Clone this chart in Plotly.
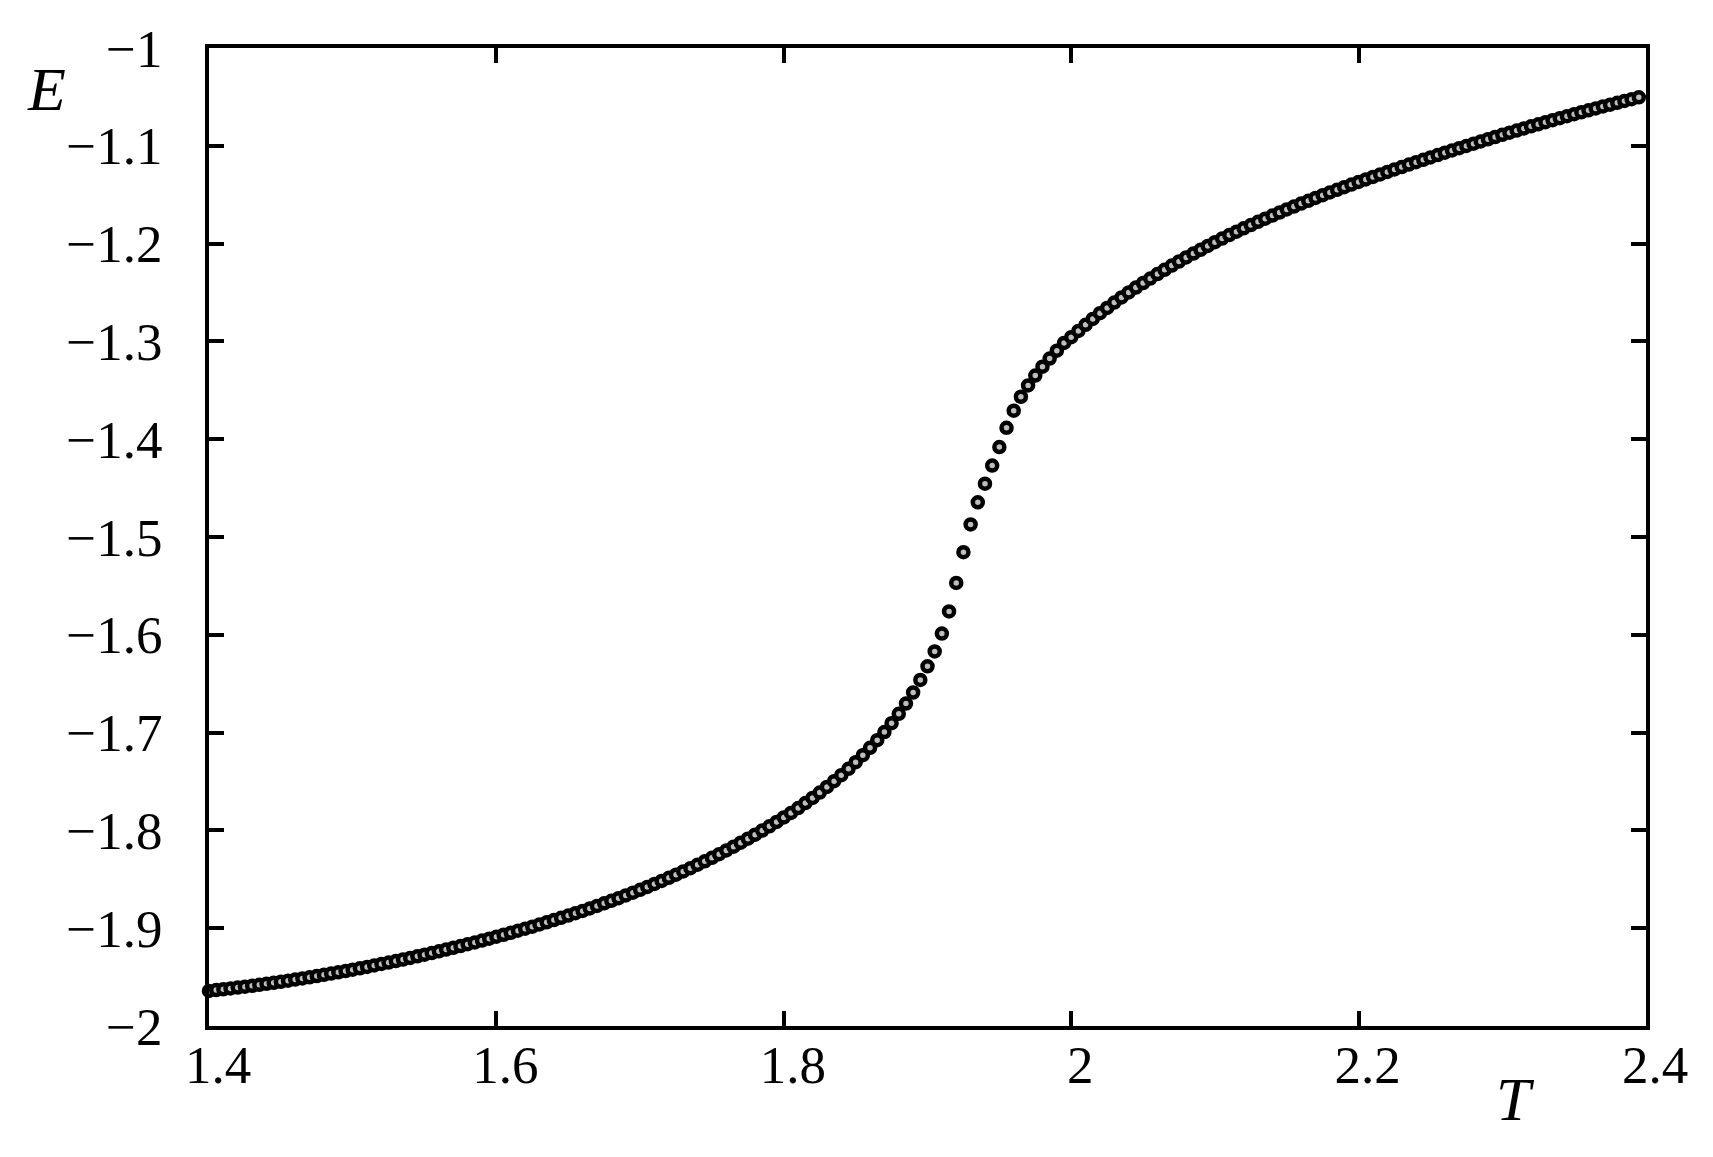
import plotly.graph_objects as go

# temperature grid (T) and energy per site (E)
T = [
    1.400, 1.405, 1.410, 1.415, 1.420, 1.425, 1.430, 1.435, 1.440, 1.445,
    1.450, 1.455, 1.460, 1.465, 1.470, 1.475, 1.480, 1.485, 1.490, 1.495,
    1.500, 1.505, 1.510, 1.515, 1.520, 1.525, 1.530, 1.535, 1.540, 1.545,
    1.550, 1.555, 1.560, 1.565, 1.570, 1.575, 1.580, 1.585, 1.590, 1.595,
    1.600, 1.605, 1.610, 1.615, 1.620, 1.625, 1.630, 1.635, 1.640, 1.645,
    1.650, 1.655, 1.660, 1.665, 1.670, 1.675, 1.680, 1.685, 1.690, 1.695,
    1.700, 1.705, 1.710, 1.715, 1.720, 1.725, 1.730, 1.735, 1.740, 1.745,
    1.750, 1.755, 1.760, 1.765, 1.770, 1.775, 1.780, 1.785, 1.790, 1.795,
    1.800, 1.805, 1.810, 1.815, 1.820, 1.825, 1.830, 1.835, 1.840, 1.845,
    1.850, 1.855, 1.860, 1.865, 1.870, 1.875, 1.880, 1.885, 1.890, 1.895,
    1.900, 1.905, 1.910, 1.915, 1.920, 1.925, 1.930, 1.935, 1.940, 1.945,
    1.950, 1.955, 1.960, 1.965, 1.970, 1.975, 1.980, 1.985, 1.990, 1.995,
    2.000, 2.005, 2.010, 2.015, 2.020, 2.025, 2.030, 2.035, 2.040, 2.045,
    2.050, 2.055, 2.060, 2.065, 2.070, 2.075, 2.080, 2.085, 2.090, 2.095,
    2.100, 2.105, 2.110, 2.115, 2.120, 2.125, 2.130, 2.135, 2.140, 2.145,
    2.150, 2.155, 2.160, 2.165, 2.170, 2.175, 2.180, 2.185, 2.190, 2.195,
    2.200, 2.205, 2.210, 2.215, 2.220, 2.225, 2.230, 2.235, 2.240, 2.245,
    2.250, 2.255, 2.260, 2.265, 2.270, 2.275, 2.280, 2.285, 2.290, 2.295,
    2.300, 2.305, 2.310, 2.315, 2.320, 2.325, 2.330, 2.335, 2.340, 2.345,
    2.350, 2.355, 2.360, 2.365, 2.370, 2.375, 2.380, 2.385, 2.390, 2.395,
]

E = [
    -1.9641, -1.9633, -1.9625, -1.9616, -1.9607, -1.9598, -1.9589, -1.9579, -1.9569, -1.9558,
    -1.9548, -1.9537, -1.9525, -1.9514, -1.9502, -1.9490, -1.9477, -1.9464, -1.9451, -1.9438,
    -1.9424, -1.9410, -1.9396, -1.9381, -1.9366, -1.9351, -1.9336, -1.9320, -1.9304, -1.9287,
    -1.9271, -1.9254, -1.9236, -1.9219, -1.9201, -1.9183, -1.9164, -1.9145, -1.9126, -1.9107,
    -1.9087, -1.9067, -1.9047, -1.9026, -1.9005, -1.8984, -1.8962, -1.8940, -1.8917, -1.8894,
    -1.8871, -1.8847, -1.8823, -1.8798, -1.8772, -1.8746, -1.8720, -1.8693, -1.8665, -1.8637,
    -1.8608, -1.8578, -1.8548, -1.8517, -1.8485, -1.8453, -1.8420, -1.8386, -1.8351, -1.8316,
    -1.8280, -1.8243, -1.8205, -1.8166, -1.8126, -1.8085, -1.8044, -1.8001, -1.7958, -1.7914,
    -1.7868, -1.7821, -1.7772, -1.7721, -1.7668, -1.7613, -1.7556, -1.7497, -1.7435, -1.7370,
    -1.7302, -1.7231, -1.7156, -1.7077, -1.6994, -1.6904, -1.6808, -1.6703, -1.6590, -1.6461,
    -1.6322, -1.6170, -1.5987, -1.5761, -1.5470, -1.5155, -1.4871, -1.4645, -1.4455, -1.4269,
    -1.4080, -1.3884, -1.3708, -1.3566, -1.3450, -1.3349, -1.3258, -1.3176, -1.3095, -1.3016,
    -1.2957, -1.2893, -1.2830, -1.2770, -1.2711, -1.2658, -1.2603, -1.2550, -1.2499, -1.2450,
    -1.2403, -1.2357, -1.2312, -1.2268, -1.2225, -1.2183, -1.2142, -1.2102, -1.2063, -1.2024,
    -1.1986, -1.1949, -1.1913, -1.1878, -1.1844, -1.1810, -1.1777, -1.1745, -1.1713, -1.1682,
    -1.1651, -1.1621, -1.1591, -1.1562, -1.1533, -1.1505, -1.1477, -1.1450, -1.1423, -1.1396,
    -1.1370, -1.1344, -1.1318, -1.1293, -1.1267, -1.1242, -1.1217, -1.1192, -1.1168, -1.1143,
    -1.1119, -1.1095, -1.1071, -1.1048, -1.1024, -1.1001, -1.0978, -1.0955, -1.0933, -1.0910,
    -1.0888, -1.0866, -1.0844, -1.0823, -1.0801, -1.0780, -1.0759, -1.0738, -1.0718, -1.0697,
    -1.0677, -1.0657, -1.0637, -1.0618, -1.0598, -1.0579, -1.0560, -1.0541, -1.0523, -1.0504,
]

x_ticks = [1.4, 1.6, 1.8, 2.0, 2.2, 2.4]
x_tick_labels = ['1.4', '1.6', '1.8', '2', '2.2', '2.4']
y_ticks = [-2.0, -1.9, -1.8, -1.7, -1.6, -1.5, -1.4, -1.3, -1.2, -1.1, -1.0]
y_tick_labels = ['\u22122', '\u22121.9', '\u22121.8', '\u22121.7', '\u22121.6', '\u22121.5',
                 '\u22121.4', '\u22121.3', '\u22121.2', '\u22121.1', '\u22121']

FONT = 'Liberation Serif, Times New Roman, serif'

fig = go.Figure()
fig.add_trace(go.Scatter(x=T, y=E, mode='markers', cliponaxis=False, hoverinfo='skip',
                         marker=dict(symbol='circle', size=10, color='#bdbdbd',
                                     line=dict(color='black', width=4.5))))

axis_common = dict(showline=True, linecolor='black', linewidth=4, mirror='ticks',
                   ticks='inside', ticklen=15, tickwidth=4, tickcolor='black',
                   showgrid=False, zeroline=False,
                   tickfont=dict(family=FONT, size=53, color='black'))

fig.update_xaxes(range=[1.4, 2.4], tickvals=x_ticks, ticktext=x_tick_labels,
                 ticklabelstandoff=-11, ticklabelshift=9, **axis_common)
fig.update_yaxes(range=[-2.0, -1.0], tickvals=y_ticks, ticktext=y_tick_labels,
                 ticklabelstandoff=32, **axis_common)

fig.add_annotation(text='<i>E</i>', xref='paper', yref='paper', x=-0.1128, y=0.9585,
                   xanchor='center', yanchor='middle', showarrow=False,
                   font=dict(family=FONT, size=62, color='black'))
fig.add_annotation(text='<i>T</i>', xref='paper', yref='paper', x=0.9090, y=-0.0745,
                   xanchor='center', yanchor='middle', showarrow=False,
                   font=dict(family=FONT, size=62, color='black'))

# the page body adds an 8px offset, so the figure is drawn 8px smaller
fig.update_layout(width=1705, height=1149, autosize=False,
                  margin=dict(l=201, r=67, t=33, b=131),
                  paper_bgcolor='white', plot_bgcolor='white',
                  showlegend=False)

fig.write_html("out.html")
